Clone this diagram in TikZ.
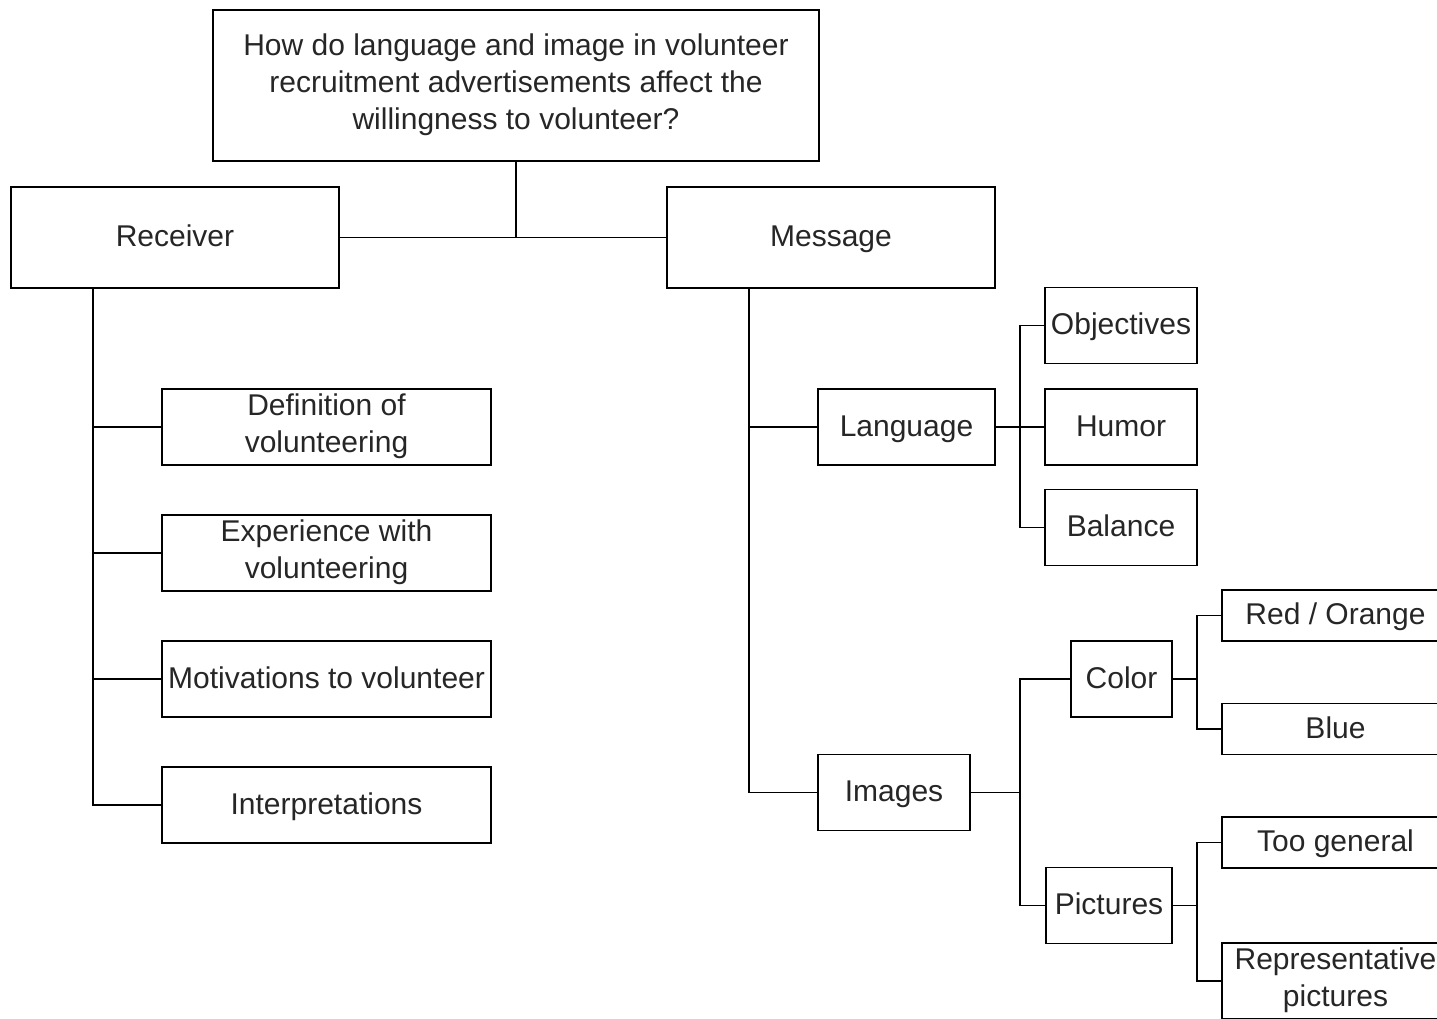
\documentclass[tikz,border=0pt]{standalone}
\usepackage{fontspec}
\setmainfont{Liberation Sans}
\newcommand\boxstrut{\rule[-7pt]{0pt}{32pt}}
\begin{document}
\begin{tikzpicture}[x=1pt,y=-1pt,line width=1.5pt,
  box/.style={draw,inner sep=0pt,align=center,text=black!85,font=\fontsize{30}{37}\selectfont,
    execute at begin node=\boxstrut,execute at end node=\boxstrut}]
\useasboundingbox (0,0) rectangle (1437,1018);
\clip (0,0) rectangle (1437,1018);
% question and first level
\node[box,minimum width=606,minimum height=151] (q) at (516,85.5) {How do language and image in volunteer\\recruitment advertisements affect the\\willingness to volunteer?};
\node[box,minimum width=328,minimum height=101] (rec) at (175,237.5) {Receiver};
\node[box,minimum width=328,minimum height=101] (msg) at (831,237.5) {Message};
\draw (q.south) -- (q.south |- rec.east);
\draw (rec.east) -- (msg.west);
% receiver side
\node[box,minimum width=329,minimum height=76] (def) at (326.5,427) {Definition of\\volunteering};
\node[box,minimum width=329,minimum height=76] (exp) at (326.5,553) {Experience with\\volunteering};
\node[box,minimum width=329,minimum height=76] (mot) at (326.5,679) {Motivations to volunteer};
\node[box,minimum width=329,minimum height=76] (int) at (326.5,805) {Interpretations};
\coordinate (rt) at (93,288);
\foreach \n in {def,exp,mot,int}
  \draw (rt) |- (\n.west);
% message side
\node[box,minimum width=177,minimum height=76] (lang) at (906.5,427) {Language};
\node[box,minimum width=152,minimum height=76] (img) at (894,792.5) {Images};
\coordinate (mt) at (749,288);
\foreach \n in {lang,img}
  \draw (mt) |- (\n.west);
% language
\node[box,minimum width=152,minimum height=76] (obj) at (1121,325.5) {Objectives};
\node[box,minimum width=152,minimum height=76] (hum) at (1121,427) {Humor};
\node[box,minimum width=152,minimum height=76] (bal) at (1121,527.5) {Balance};
\coordinate (lt) at (1020,427);
\draw (lang.east) -- (lt);
\foreach \n in {obj,hum,bal}
  \draw (lt) |- (\n.west);
% images
\node[box,minimum width=101,minimum height=76] (col) at (1121.5,679) {Color};
\node[box,minimum width=126,minimum height=76] (pic) at (1109,905.5) {Pictures};
\coordinate (it) at (1020,792.5);
\draw (img.east) -- (it);
\foreach \n in {col,pic}
  \draw (it) |- (\n.west);
% color and pictures
\node[box,minimum width=227,minimum height=51] (red) at (1335.5,615.5) {Red / Orange};
\node[box,minimum width=227,minimum height=51] (blue) at (1335.5,729) {Blue};
\node[box,minimum width=227,minimum height=51] (gen) at (1335.5,842.5) {Too general};
\node[box,minimum width=227,minimum height=76] (rep) at (1335.5,981) {Representative\\pictures};
\coordinate (ct) at (1197,679);
\draw (col.east) -- (ct);
\foreach \n in {red,blue}
  \draw (ct) |- (\n.west);
\coordinate (pt) at (1197,905.5);
\draw (pic.east) -- (pt);
\foreach \n in {gen,rep}
  \draw (pt) |- (\n.west);
\end{tikzpicture}
\end{document}
